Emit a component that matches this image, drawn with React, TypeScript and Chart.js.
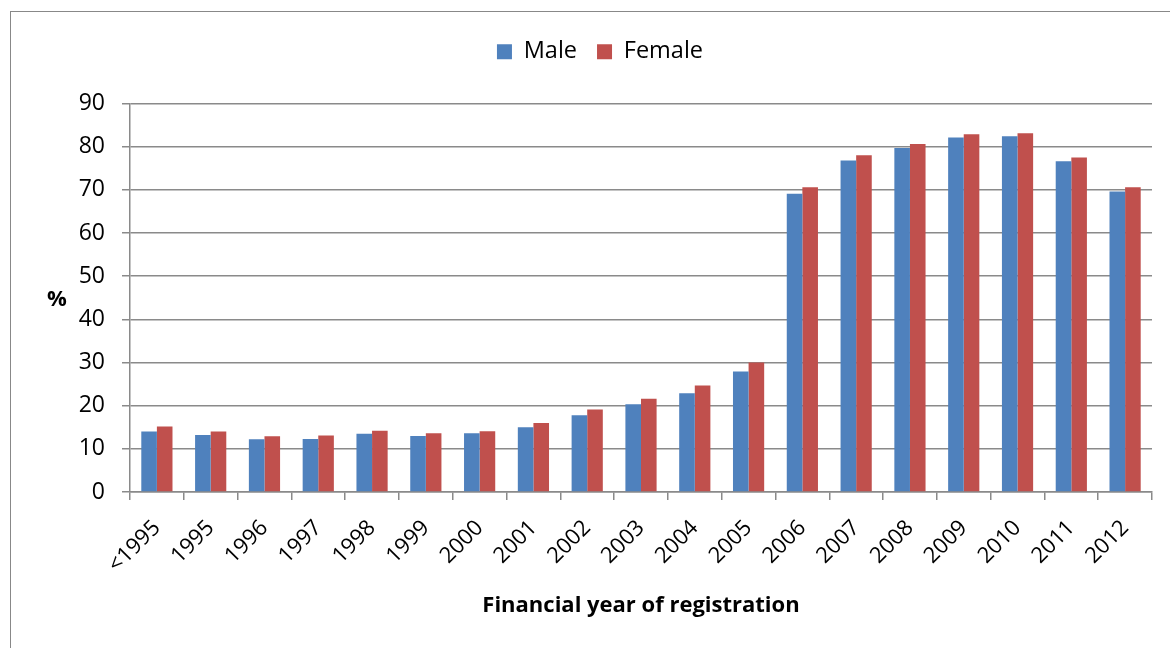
import React, { useEffect, useRef } from "react";
import { Chart, registerables } from "chart.js";

Chart.register(...registerables);

const categories = ["<1995", "1995", "1996", "1997", "1998", "1999", "2000", "2001", "2002", "2003", "2004", "2005", "2006", "2007", "2008", "2009", "2010", "2011", "2012"];
const maleValues = [14.0, 13.2, 12.2, 12.3, 13.5, 13.0, 13.6, 15.0, 17.8, 20.3, 22.9, 27.9, 69.1, 76.8, 79.7, 82.1, 82.4, 76.6, 69.6];
const femaleValues = [15.2, 14.0, 12.9, 13.1, 14.2, 13.6, 14.1, 16.0, 19.1, 21.6, 24.7, 30.0, 70.6, 78.0, 80.6, 82.9, 83.1, 77.5, 70.6];
const seriesNames = ["Male", "Female"];
const yTitle = "%";
const xTitle = "Financial year of registration";

const GRID = "#8a8a8a";
const FONT = '"Open Sans", "DejaVu Sans", sans-serif';

const yTitlePlugin = {
  id: "yTitleHorizontal",
  afterDraw(chart: any) {
    const { ctx, chartArea } = chart;
    ctx.save();
    ctx.font = `bold 22px ${FONT}`;
    ctx.fillStyle = "#000";
    ctx.textAlign = "center";
    ctx.textBaseline = "middle";
    ctx.fillText(yTitle, 57, (chartArea.top + chartArea.bottom) / 2 + 2);
    ctx.restore();
  },
};

export default function App() {
  const canvasRef = useRef<HTMLCanvasElement | null>(null);

  useEffect(() => {
    if (!canvasRef.current) return;
    Chart.defaults.font.family = FONT;
    Chart.defaults.color = "#000";
    const chart = new Chart(canvasRef.current, {
      type: "bar",
      data: {
        labels: categories,
        datasets: [
          { label: seriesNames[0], data: maleValues, backgroundColor: "#4F81BD", borderWidth: 0 },
          { label: seriesNames[1], data: femaleValues, backgroundColor: "#C0504D", borderWidth: 0 },
        ],
      },
      options: {
        animation: false,
        responsive: false,
        devicePixelRatio: 1,
        layout: { padding: { top: 20, right: 18, bottom: 0, left: 48 } },
        datasets: { bar: { categoryPercentage: 0.58, barPercentage: 1 } },
        plugins: {
          legend: {
            position: "top",
            labels: { boxWidth: 15, boxHeight: 15, padding: 20, font: { size: 23.5 }, color: "#000" },
          },
          title: {
            display: true,
            text: "",
            weight: 500,
            font: { size: 13, lineHeight: 1 },
            padding: { top: 17, bottom: 0 },
          },
          tooltip: { enabled: false },
        },
        scales: {
          x: {
            grid: { offset: true, drawOnChartArea: false, drawTicks: true, tickLength: 8, color: GRID, lineWidth: 1.5 },
            border: { display: true, color: GRID, width: 1.5 },
            ticks: { maxRotation: 45, minRotation: 45, autoSkip: false, font: { size: 22 }, padding: 15, color: "#000" },
            title: { display: true, text: xTitle, font: { size: 22, weight: "bold" }, padding: { top: 0, bottom: 29 }, color: "#000" },
            afterFit: (scale: any) => {
              scale.height = 156;
              scale.paddingLeft = 0;
              scale.paddingRight = 0;
            },
          },
          y: {
            min: 0,
            max: 90,
            ticks: { stepSize: 10, font: { size: 23 }, padding: 17, color: "#000" },
            grid: { color: GRID, lineWidth: 1.5, tickLength: 8, drawTicks: true },
            border: { display: true, color: GRID, width: 1.5 },
            afterFit: (scale: any) => {
              scale.width = 82;
              scale.paddingTop = 0;
              scale.paddingBottom = 0;
            },
          },
        },
      },
      plugins: [yTitlePlugin],
    });
    return () => chart.destroy();
  }, []);

  return (
    <div style={{ position: "fixed", left: 0, top: 0, width: 1170, height: 648, overflow: "hidden", background: "#fff" }}>
      <div style={{ position: "absolute", left: 10, top: 11, width: 1300, height: 800, borderLeft: "1px solid #888", borderTop: "1px solid #888" }} />
      <canvas ref={canvasRef} width={1170} height={648} style={{ position: "absolute", left: 0, top: 0, width: 1170, height: 648 }} />
    </div>
  );
}
